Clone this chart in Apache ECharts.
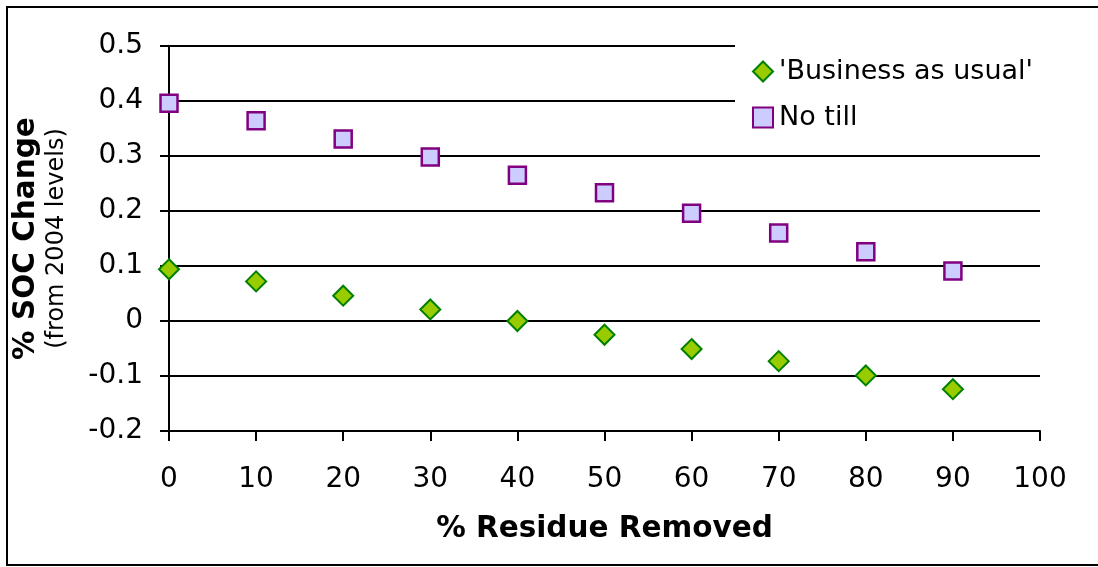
<!DOCTYPE html>
<html>
<head>
<meta charset="utf-8">
<script src="https://cdn.jsdelivr.net/npm/echarts@6/dist/echarts.min.js"></script>
<style>
  html, body { margin: 0; padding: 0; background: #fff; }
  #chart { width: 1098px; height: 567px; }
</style>
</head>
<body>
<div id="chart"></div>
<script>
// Percent of crop residue removed (x) and resulting SOC change (y)
const residueRemoved = [0, 10, 20, 30, 40, 50, 60, 70, 80, 90];
const businessAsUsual = [0.094, 0.072, 0.046, 0.021, 0.000, -0.025, -0.051, -0.073, -0.099, -0.124];
const noTill = [0.396, 0.364, 0.331, 0.298, 0.265, 0.233, 0.196, 0.160, 0.126, 0.091];
const seriesNames = ["'Business as usual'", 'No till'];

const FONT = 'DejaVu Sans';

function pairs(xs, ys) {
  return xs.map((x, i) => [x, ys[i]]);
}

const chart = echarts.init(document.getElementById('chart'), null, { renderer: 'canvas' });

chart.setOption({
  backgroundColor: '#ffffff',
  animation: false,
  textStyle: { fontFamily: FONT, color: '#000' },
  grid: { left: 169, right: 58, top: 46, bottom: 136 },
  graphic: [{
    type: 'rect',
    shape: { x: 7, y: 7, width: 1100, height: 558 },
    style: { fill: 'none', stroke: '#000', lineWidth: 2 },
    silent: true,
    z: 100
  }],
  legend: {
    orient: 'vertical',
    left: 735,
    top: 44,
    padding: [14, 10, 16, 17],
    backgroundColor: '#ffffff',
    itemWidth: 20,
    itemHeight: 20,
    itemGap: 19,
    textStyle: { fontFamily: FONT, fontSize: 27, color: '#000', padding: [0, 0, 0, 1] },
    data: seriesNames
  },
  xAxis: {
    type: 'value',
    min: 0,
    max: 100,
    interval: 10,
    name: '% Residue Removed',
    nameLocation: 'middle',
    nameGap: 83,
    nameTextStyle: { fontFamily: FONT, fontSize: 29.5, fontWeight: 'bold', color: '#000' },
    axisLine: { show: true, onZero: false, lineStyle: { color: '#000', width: 2 } },
    axisTick: { show: true, length: 10, lineStyle: { color: '#000', width: 2 } },
    axisLabel: { fontFamily: FONT, fontSize: 28, color: '#000', margin: 35 },
    splitLine: { show: false }
  },
  yAxis: {
    type: 'value',
    min: -0.2,
    max: 0.5,
    interval: 0.1,
    name: '{t|% SOC Change}\n{s|(from 2004 levels)}',
    nameLocation: 'middle',
    nameRotate: 90,
    nameGap: 98,
    nameTextStyle: {
      rich: {
        t: { fontFamily: FONT, fontSize: 29.5, fontWeight: 'bold', color: '#000', lineHeight: 34 },
        s: { fontFamily: FONT, fontSize: 24, color: '#000', lineHeight: 28 }
      }
    },
    axisLine: { show: true, onZero: false, lineStyle: { color: '#000', width: 2 } },
    axisTick: { show: true, length: 9, lineStyle: { color: '#000', width: 2 } },
    axisLabel: {
      fontFamily: FONT, fontSize: 28, color: '#000', margin: 26,
      formatter: v => String(Math.round(v * 10) / 10)
    },
    splitLine: { show: true, lineStyle: { color: '#000', width: 2 } }
  },
  series: [
    {
      name: seriesNames[0],
      type: 'scatter',
      symbol: 'diamond',
      symbolSize: [20, 20],
      itemStyle: { color: '#99CC00', borderColor: '#008000', borderWidth: 2, opacity: 1 },
      data: pairs(residueRemoved, businessAsUsual),
      z: 3
    },
    {
      name: seriesNames[1],
      type: 'scatter',
      symbol: 'rect',
      symbolSize: [17, 17],
      itemStyle: { color: '#CCCCFF', borderColor: '#800080', borderWidth: 2.5, opacity: 1 },
      data: pairs(residueRemoved, noTill),
      z: 3
    }
  ]
});
</script>
</body>
</html>
